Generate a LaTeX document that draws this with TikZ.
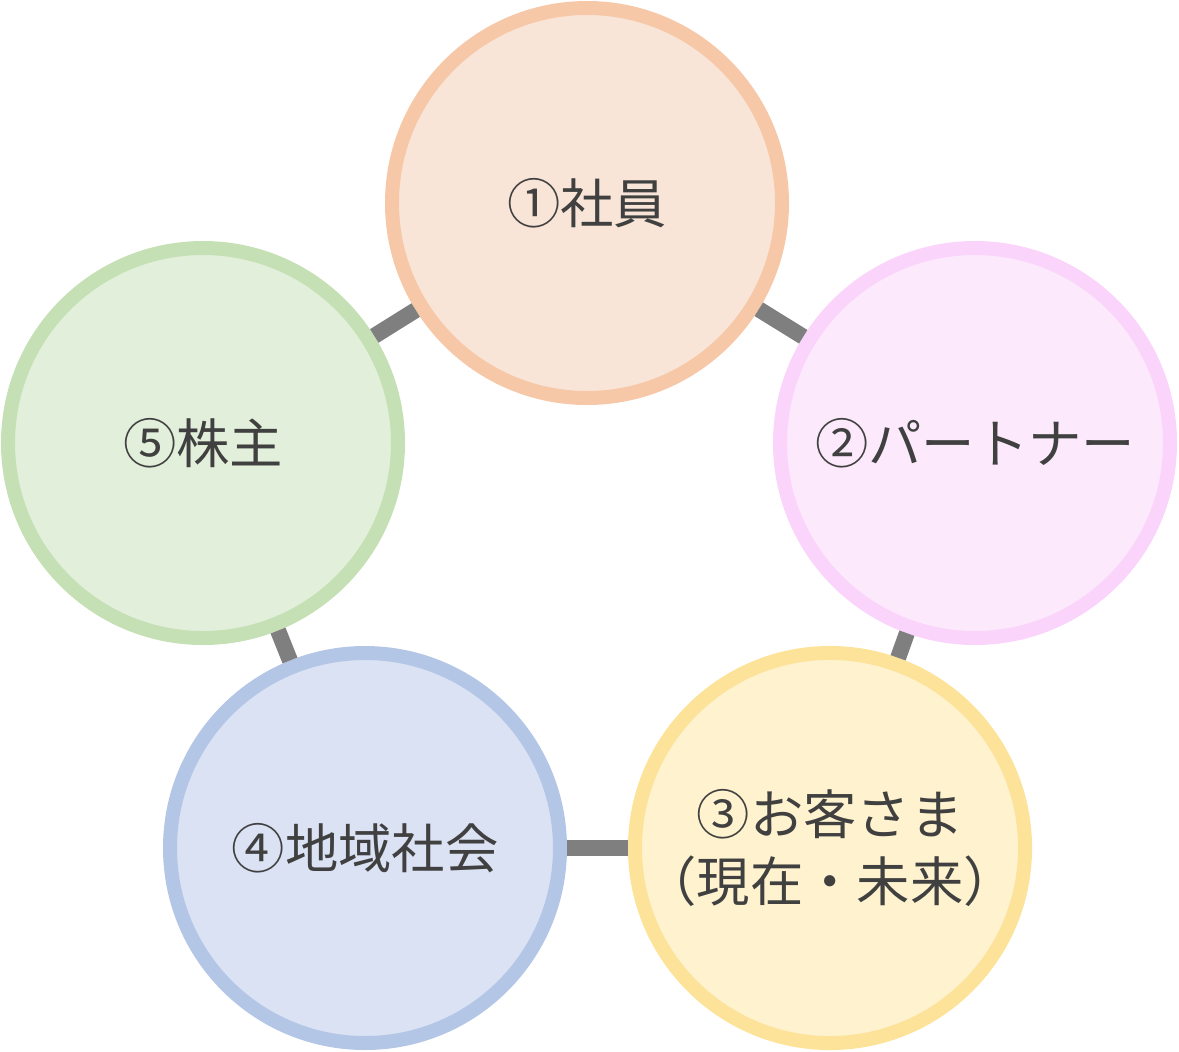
\documentclass[tikz,border=0pt]{standalone}
\usepackage{fontspec}
\newfontfamily\jpfont{Noto Sans CJK JP}
\definecolor{txt}{HTML}{404040}
\definecolor{link}{HTML}{7F7F7F}
\tikzset{every picture/.style={line width=0.75pt}}
\tikzset{
  party/.style={circle, minimum size=390*0.75pt, line width=14*0.75pt, inner sep=0pt,
    align=center, text=txt, font=\jpfont\fontsize{40}{50}\selectfont},
  tie/.style={draw=link, line width=16*0.75pt}
}
\begin{document}
\begin{tikzpicture}[x=0.75pt,y=0.75pt,yscale=-1,xscale=1]
\useasboundingbox (0,0) rectangle (1179,1051);

% Members
\node [party, draw={rgb,255:red,246;green,200;blue,168}, fill={rgb,255:red,249;green,229;blue,216}] (staff) at (587,203) {①社員};
\node [party, draw={rgb,255:red,250;green,212;blue,250}, fill={rgb,255:red,252;green,234;blue,252}] (partner) at (975,443) {②パートナー};
\node [party, draw={rgb,255:red,253;green,227;blue,154}, fill={rgb,255:red,254;green,242;blue,207}] (client) at (830,848) {③お客さま\\（現在・未来）};
\node [party, draw={rgb,255:red,180;green,198;blue,230}, fill={rgb,255:red,218;green,226;blue,243}] (local) at (365,848) {④地域社会};
\node [party, draw={rgb,255:red,197;green,224;blue,180}, fill={rgb,255:red,226;green,239;blue,218}] (holder) at (203,443) {⑤株主};

% Links
\begin{scope}[on background layer/.try]
\end{scope}
\draw [tie] (staff) -- (partner);
\draw [tie] (partner) -- (client);
\draw [tie] (client) -- (local);
\draw [tie] (local) -- (holder);
\draw [tie] (holder) -- (staff);

\end{tikzpicture}
\end{document}
